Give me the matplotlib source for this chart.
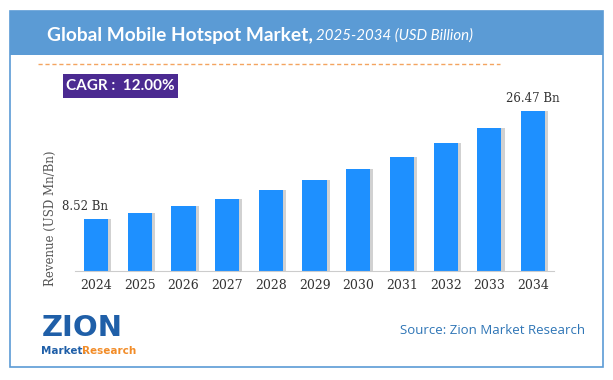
import matplotlib.pyplot as plt
from matplotlib.patches import Rectangle
from matplotlib.lines import Line2D

years = ['2024', '2025', '2026', '2027', '2028', '2029', '2030', '2031', '2032', '2033', '2034']
revenue = [8.52, 9.54, 10.69, 11.97, 13.41, 15.01, 16.82, 18.83, 21.09, 23.63, 26.47]
first_label = '8.52 Bn'
last_label = '26.47 Bn'

W, H = 613, 380
fig = plt.figure(figsize=(W / 100, H / 100), dpi=100)
fig.patch.set_facecolor('white')

def fx(px):
    return px / W

def fy(py):
    return 1 - py / H

# outer frame and header band
fig.patches.append(Rectangle((fx(10), fy(367)), fx(593), (367 - 11) / H, transform=fig.transFigure,
                             fill=False, edgecolor='#5B9BD5', lw=1.2))
fig.patches.append(Rectangle((fx(10), fy(55)), fx(593), 44 / H, transform=fig.transFigure,
                             facecolor='#5B9BD5', edgecolor='none'))
fig.text(fx(47), fy(35), 'Global Mobile Hotspot Market,', color='white', fontsize=13.8,
         fontweight='bold', family='Lato', va='center', ha='left')
fig.text(fx(316), fy(36), '2025-2034 (USD Billion)', color='white', fontsize=10.8,
         style='italic', family='Lato', va='center', ha='left')

# dashed orange separator
fig.lines.append(Line2D([fx(38), fx(500)], [fy(64), fy(64)], transform=fig.transFigure,
                        color='#F4A460', lw=1, ls=(0, (3, 2))))

# CAGR box
fig.patches.append(Rectangle((fx(63), fy(98)), fx(115), 24 / H, transform=fig.transFigure,
                             facecolor='#4B2A91', edgecolor='none'))
fig.text(fx(120), fy(86), 'CAGR :  12.00%', color='white', fontsize=11, fontweight='bold',
         family='Lato', ha='center', va='center')

# bar chart
ax = fig.add_axes([fx(75), fy(271), fx(479), 171 / H])
x = list(range(len(years)))
ax.bar([i + 0.07 for i in x], revenue, width=0.556, color='#9a9a9a', alpha=0.45, zorder=1)
ax.bar(x, revenue, width=0.556, color='#1E90FF', zorder=2)
ax.set_xlim(-0.485, 10.48)
ax.set_ylim(0, 171 / 6.05)
for s in ['top', 'right', 'left']:
    ax.spines[s].set_visible(False)
ax.spines['bottom'].set_color('#cccccc')
ax.set_yticks([])
ax.set_xticks(x)
ax.set_xticklabels(years, family='DejaVu Serif', fontsize=9, color='#333333')
ax.tick_params(axis='x', length=0, pad=6)
ax.text(x[0] - 0.25, revenue[0] + 1.0, first_label, family='DejaVu Serif', fontsize=8.5,
        color='#333333', ha='center', va='bottom')
ax.text(x[-1], revenue[-1] + 1.0, last_label, family='DejaVu Serif', fontsize=8.5,
        color='#333333', ha='center', va='bottom')

fig.text(fx(50), fy(218), 'Revenue (USD Mn/Bn)', rotation=90, family='DejaVu Serif', fontsize=8.5,
         color='#555555', ha='center', va='center')

# logo approximation
fig.text(fx(42), fy(328), 'ZION', family='DejaVu Sans', fontsize=21, fontweight='bold',
         color='#1F5FA8', ha='left', va='center')
fig.text(fx(41), fy(351), 'Market.', family='DejaVu Sans', fontsize=7.5, fontweight='bold',
         color='#1F5FA8', ha='left', va='center')
fig.text(fx(82), fy(351), 'Research', family='DejaVu Sans', fontsize=7.5, fontweight='bold',
         color='#F28C28', ha='left', va='center')

fig.text(fx(585), fy(330), 'Source: Zion Market Research', family='Open Sans', fontsize=9.5,
         color='#2E75B6', ha='right', va='center')

fig.savefig('out.png', dpi=100)
